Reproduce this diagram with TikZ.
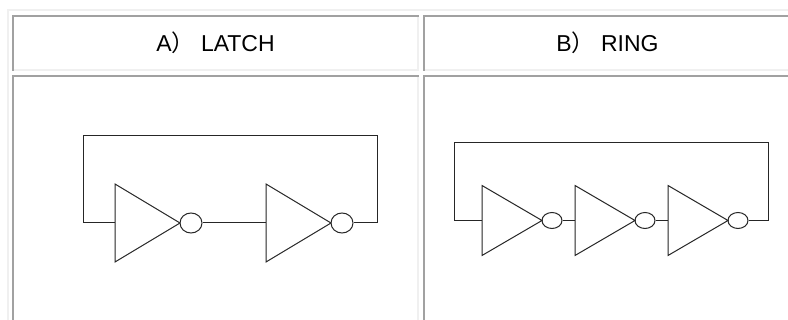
\documentclass[tikz,border=0pt]{standalone}
\usepackage{fontspec}
\setmainfont{Liberation Sans}
\newfontfamily\cjk{Noto Sans CJK JP}
\usetikzlibrary{shapes.geometric}

\begin{document}
\begin{tikzpicture}[x=1pt,y=-1pt,
  lite/.style={draw=black!6,line width=2pt},
  dark/.style={draw=black!37,line width=2pt},
  wire/.style={draw=black!85,line width=1pt},
  bubble/.style={ellipse,wire,inner sep=0pt},
  head/.style={anchor=base,font=\fontsize{23}{27}\selectfont}]
\useasboundingbox (0,0) rectangle (788,320);
\fill[white] (0,0) rectangle (788,320);
\draw[lite] (8,330) |- (800,10);
\foreach \xa/\xb in {12/419,423/792}
  \foreach \ya/\yb in {15/71,75/330} {
    \draw[lite] (\xa,\yb-1) -| (\xb-1,\ya);
    \draw[dark] (\xa+1,\yb) |- (\xb,\ya+1);
  }
\node[head] (ta) at (215.5,52) {A{\cjk）} LATCH};
\node[head] (tb) at (607.5,52) {B{\cjk）} RING};

% latch
\def\h{78}
\def\w{65}
\foreach \x/\n in {115/1,266/2} {
  \draw[wire] (\x,223-\h/2) -- (\x+\w,223) -- (\x,223+\h/2) -- cycle;
  \coordinate (lin\n) at (\x,223);
  \node[bubble,minimum width=22pt,minimum height=20pt] (lout\n) at (\x+\w+11,223) {};
}
\coordinate (ltopl) at (83,136);
\coordinate (ltopr) at (377,136);
\draw[wire] (lout1.east) -- (lin2);
\draw[wire] (lout2.east) -| (ltopr) -- (ltopl) |- (lin1);

% ring
\def\h{70}
\def\w{60}
\foreach \x/\n in {482/1,575/2,668/3} {
  \draw[wire] (\x,220.5-\h/2) -- (\x+\w,220.5) -- (\x,220.5+\h/2) -- cycle;
  \coordinate (rin\n) at (\x,220.5);
  \node[bubble,minimum width=20pt,minimum height=16pt] (rout\n) at (\x+\w+10,220.5) {};
}
\coordinate (rtopl) at (454,143);
\coordinate (rtopr) at (768,143);
\draw[wire] (rout1.east) -- (rin2);
\draw[wire] (rout2.east) -- (rin3);
\draw[wire] (rout3.east) -| (rtopr) -- (rtopl) |- (rin1);
\end{tikzpicture}
\end{document}
